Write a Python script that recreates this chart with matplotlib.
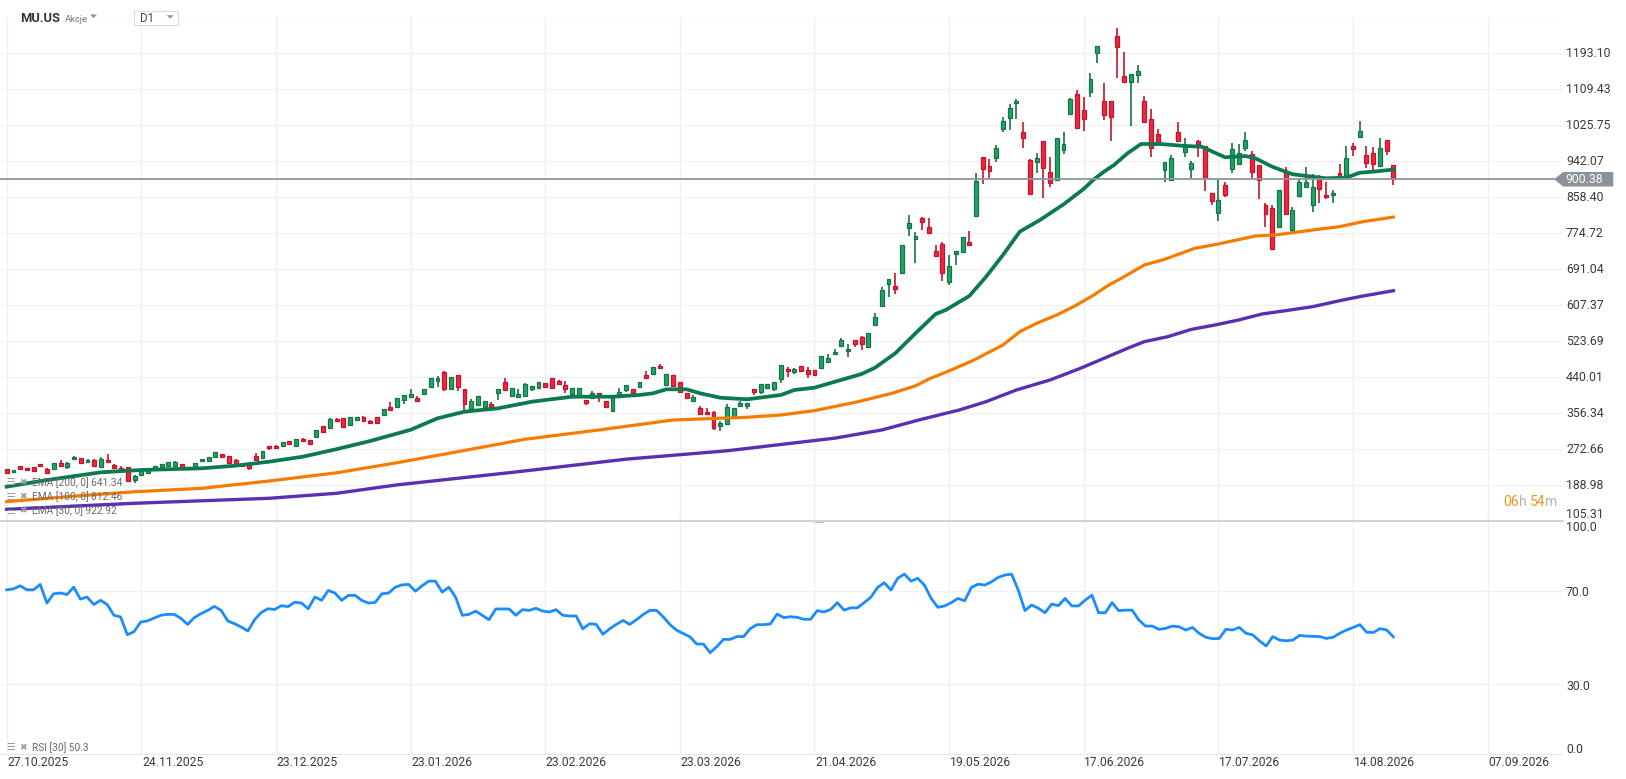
import numpy as np
import matplotlib.pyplot as plt
from matplotlib.patches import Polygon, Rectangle
from matplotlib.transforms import blended_transform_factory

plt.rcParams['font.family'] = ['Roboto', 'DejaVu Sans']

W, H = 1626, 779

opens = [226, 219, 233.1, 228.4, 231.5, 237.7, 226.8, 226.1, 240.8, 232.3,
         249.3, 251.6, 243.1, 247.8, 230.7, 247.8, 235.4, 229.9, 230.7, 201.3,
         212.1, 218.3, 227.6, 232.3, 234.6, 234.6, 237.7, 231.5, 230, 244.7,
         244.7, 254, 261, 256.3, 247, 237.7, 237.7, 256.3, 251.6, 279.5,
         280.3, 280.3, 291.2, 279.5, 296.6, 293.5, 300.5, 326, 321.4, 343.1,
         345.5, 330, 340, 347.8, 339.3, 347, 351.7, 370.2, 370.2, 388.1,
         395, 391.9, 402, 418.3, 432.2, 451.6, 413.6, 444.6, 412.1, 367.1,
         376.4, 371.8, 377.2, 404.3, 428.4, 397.4, 395, 397.4, 413.6, 414.4,
         426, 437.7, 431.5, 422.2, 400.5, 397.4, 386.5, 391.2, 403.6, 385,
         362.5, 395, 410.5, 412.1, 417.5, 445.4, 448.5, 466.3, 421.4, 445.3,
         428.3, 402.7, 384.8, 367.9, 358.6, 360, 326, 332, 346.1, 372.5,
         372.5, 412, 405, 415.9, 412.8, 436.8, 459.3, 451.5, 465.5, 456.9,
         456.9, 460.8, 476.3, 493.4, 513.5, 500.3, 525.9, 534.4, 509.6, 560.8,
         604.9, 657.6, 652.2, 681.6, 786.2, 760.7, 809.5, 788.6, 732.8, 749,
         662.3, 725.8, 730.4, 753.7, 815.7, 951.3, 930.4, 949, 1016.4, 1041.9,
         1076.8, 1009.4, 945.1, 941.2, 988.5, 916.4, 899.4, 969.1, 1052.8, 1097.7,
         1061.3, 1103.9, 1193, 1081.5, 1081.5, 1233.3, 1139.6, 1125.6, 1141.9, 1082.2,
         1040.4, 1004.7, 921.1, 899.4, 1009.4, 962.9, 923.4, 988.5, 976.9, 867.6,
         821.1, 886.2, 923.4, 935, 972.2, 958.3, 932.7, 839.7, 832.7, 790.1,
         919.5, 782.4, 862.2, 883.1, 839.7, 903.2, 863.7, 862.9, 914.9, 907.9,
         976.9, 997.8, 956.8, 960.6, 932, 990.9, 932.7]

closes = [218, 223.8, 226.1, 224.5, 223, 233.1, 216.8, 240, 234.6, 240,
          254, 240, 247.8, 234.6, 250.1, 242.3, 228.4, 223, 199.7, 210.6,
          225.3, 226.1, 233.8, 238.5, 242.3, 242.3, 232.3, 227.6, 240, 250.1,
          254, 265.6, 255.5, 240, 237.7, 234.6, 228.4, 247, 267.9, 274.9,
          274.9, 288.8, 284.2, 295.8, 291.9, 284.2, 317.5, 312.1, 343.8, 338.4,
          324.5, 347, 347, 337.7, 333.1, 334.6, 365.6, 364, 391.2, 398.1,
          401.2, 385.7, 412.1, 437.7, 438.4, 413.6, 440, 418.3, 377.2, 385,
          395.8, 385, 371.8, 412.1, 411.3, 414.4, 400.5, 424.5, 419.1, 428.4,
          418.3, 416, 425.3, 413.6, 414.4, 414.4, 379.5, 402.8, 396.6, 370.2,
          391.2, 405.1, 421.4, 404.3, 428.4, 439.2, 463.2, 460.9, 447.7, 420.5,
          405, 392.6, 394.9, 353.9, 353.9, 323, 334, 370, 367.9, 379.5,
          379.5, 405, 423.6, 423.6, 428.3, 467.8, 453.8, 459.3, 453.8, 446.9,
          445.3, 489.5, 484.1, 498.8, 525.9, 505, 516.6, 516.6, 542.2, 579.4,
          642.1, 667.7, 646, 746.7, 798.6, 767.6, 800.2, 774.6, 722.7, 681.6,
          698.7, 732.8, 765.3, 748.3, 896.3, 924.9, 920.3, 972.2, 1035, 1065.2,
          1082.2, 995.4, 865.3, 949, 927.3, 892.4, 995.4, 981.5, 1087.7, 1018.7,
          1039.6, 1132.6, 1209.3, 1048.9, 1045.8, 1208.5, 1125.6, 1145, 1152, 1032.6,
          972.2, 983.8, 939.7, 949, 988.5, 977.6, 937.3, 981.5, 902.5, 849,
          851.3, 863, 970.7, 960.6, 990.8, 918, 899.4, 818.8, 738, 874.6,
          818.8, 828.1, 893.2, 893.2, 881.6, 876.9, 858.3, 869.1, 908.7, 949.7,
          969.9, 1011.8, 937.4, 935.1, 972.3, 965.3, 900.38]

highs = [228, 224.5, 234, 229, 232, 239, 229.2, 241, 247.8, 243.1,
         256.3, 252.5, 250.1, 249, 254, 261.7, 238.5, 233.8, 232, 212,
         226, 227, 235, 239.5, 243, 244.7, 238.5, 232.3, 241, 251,
         255, 266.5, 262, 257, 250.1, 238.5, 238.5, 263.3, 269, 280.5,
         281.5, 289.5, 292, 296.5, 298.9, 294, 318.5, 327, 345, 346.2,
         346.5, 348, 348, 350.9, 340, 348, 366.5, 382.6, 392, 399,
         412.1, 396.6, 413, 438.5, 443.9, 455.5, 441, 445.5, 413, 388.8,
         396.5, 386, 383.4, 413, 437.7, 415, 412.1, 427.6, 420, 429,
         427, 438.5, 433, 431.5, 415, 415.5, 387, 407.4, 404.5, 386,
         396.6, 414.4, 422, 413, 429, 454.7, 464, 471, 448.5, 446,
         429, 403.5, 398.8, 373.3, 368.6, 361, 339, 378, 369, 384.9,
         380.5, 413, 424.5, 424.5, 429, 468.5, 463.9, 460.5, 466.5, 463.9,
         458, 490.5, 493.4, 505.8, 530.6, 517.4, 527, 535.5, 544, 589.4,
         649.1, 669, 681.6, 748, 817.2, 776.9, 811.8, 810.3, 747.5, 753.7,
         724.3, 734, 766.5, 780, 914.1, 952.5, 947.4, 979.2, 1044.3, 1075.3,
         1086.1, 1033.4, 946.5, 960.6, 989.5, 952.1, 996.5, 1009.4, 1089, 1107.8,
         1090.8, 1147.3, 1210.5, 1123.3, 1082.5, 1251.9, 1196.1, 1146, 1165.9, 1094.6,
         1063.6, 1016.4, 941, 956.7, 1033.4, 996.2, 942, 991.6, 978, 868.5,
         900.9, 894.7, 983.8, 981.5, 1010.2, 966.8, 934, 845.9, 840, 876,
         928.8, 835.1, 900.9, 928.8, 911.8, 909.4, 893.9, 875.4, 935.8, 977.6,
         983.9, 1035.8, 977.7, 976, 995.5, 992, 934]

lows = [215, 218, 225, 224, 220.7, 232, 216, 225, 234, 227.6,
        248.5, 239, 242, 231.5, 229, 241, 227.5, 222, 198, 193.7,
        211, 217, 227, 231.5, 232.3, 234, 229.2, 227, 229, 244,
        244, 252.4, 254, 239, 237, 234, 224.5, 246, 251, 271.8,
        274, 279.5, 283.5, 279, 291, 283.5, 300, 311, 321, 337.5,
        323, 327.6, 339, 337, 331, 334, 351, 363, 369, 378,
        392.7, 385, 399.7, 417.5, 418.3, 408.2, 413, 408.2, 364, 366,
        374.1, 371, 366.4, 387.3, 410, 396, 394, 396, 409, 413.5,
        416.7, 415, 422.9, 402.8, 399.5, 396.5, 376.4, 390, 381.9, 369.5,
        358.6, 394, 406.7, 398.1, 417, 438.5, 448, 460, 421, 416.6,
        402.7, 391.5, 384, 353, 352, 318, 316, 328, 345, 371,
        365.5, 398.8, 400.4, 412, 408.9, 425.9, 441.5, 446.9, 453, 437.6,
        442.2, 460, 472.4, 492.5, 511.2, 488, 509.6, 504.2, 509, 560,
        604, 627.4, 634.4, 680, 769.2, 706.4, 783.1, 773.5, 720.4, 664.6,
        653.7, 701.8, 729, 747, 814, 890.1, 904, 941.2, 1010.9, 1015.6,
        1039.6, 973.8, 864, 914.9, 856, 883.1, 898, 959.8, 1050.5, 1017.5,
        1013.3, 1092.3, 1169.8, 1038.8, 990, 1136.5, 1124, 1024.9, 1123.3, 1031.5,
        951.3, 983, 893.2, 898, 987.5, 952.8, 902.5, 951.3, 873.8, 840.5,
        804.1, 858.3, 915.6, 934, 966.8, 904, 855.2, 790.1, 735, 787,
        817, 774.6, 859.9, 880, 824.2, 845.1, 854.4, 844.4, 907, 906,
        955.2, 995.5, 925.8, 921.9, 928.9, 956.8, 887]

# EMA lines, read at bar positions
ema30_idx = [0, 6, 14, 20, 29, 34, 39, 44, 49, 54, 60, 64, 68, 73, 78, 84, 90, 94, 96, 98,
             101, 103, 106, 110, 115, 117, 120, 127, 129, 132, 135, 138, 139.5, 143, 145.5,
             148, 150.5, 153.5, 157, 158.5, 160, 161.5, 163, 164.5, 166.5, 168.5, 171.5,
             174.5, 177.5, 181, 184, 185.5, 188, 191, 196, 199, 201, 203, 206]
ema30_val = [185.8, 201.3, 219.2, 224.6, 228.5, 234.6, 243.9, 255.5, 273.0, 292.0, 318.0,
             344.7, 360.1, 368.0, 383.3, 394.9, 394.9, 398.9, 402.8, 412.1, 412.1, 402.8,
             392.6, 388.9, 398.9, 410.5, 415.9, 447.7, 462.4, 495.8, 542.2, 587.2, 596.5,
             629.0, 673.9, 724.3, 778.6, 805.7, 842.0, 860.0, 878.0, 900.0, 918.0, 933.5,
             960.7, 982.3, 982.3, 978.4, 976.0, 951.4, 954.4, 949.1, 929.6, 912.0, 902.6,
             904.0, 915.6, 918.0, 922.92]

ema100_idx = [0, 9, 19, 29, 39, 49, 58, 68, 77, 88, 99, 110, 115, 120, 126.5, 131.5, 135,
              137, 140, 143.5, 148, 150.5, 153, 156, 158.5, 161.5, 163.5, 166, 169, 172,
              176.5, 180, 185.5, 188.5, 194, 198, 201.5, 206]
ema100_val = [151, 162.5, 174, 182, 199, 218, 241.5, 270, 296, 317.6, 340.8, 347.1, 352.4,
              362.5, 383.4, 402.8, 420, 436, 455, 478.7, 515.1, 546.1, 565.5, 584.9, 604.2,
              631.3, 652.3, 673.9, 701.1, 714.2, 739.8, 749.9, 768.5, 770.8, 782.4, 790.2,
              801.8, 812.46]

ema200_idx = [0, 19, 39, 49, 58, 68, 76, 92, 107, 123, 130, 135.5, 141.5, 145.5, 150, 155,
              159.5, 163, 166.5, 169, 172.5, 176, 179.5, 183, 186.5, 190, 194, 198.5, 201.5,
              206]
ema200_val = [133.2, 147.2, 158.8, 170.4, 190, 207, 220.6, 249.7, 269.2, 298.5, 317.6, 340.8,
              364.0, 383.4, 410.6, 433.8, 460.9, 484.1, 507.4, 522.9, 534.5, 551.5, 561.6,
              573.2, 587.2, 594.9, 604.2, 619.7, 629.0, 641.34]

rsi = [70.4, 70.8, 72.1, 70.4, 70.4, 72.7, 64.7, 68.7, 69.0, 68.4, 71.5, 66.4, 67.3, 64.1,
       65.9, 64.1, 59.5, 58.8, 51.2, 52.5, 56.6, 57.1, 58.3, 59.5, 59.9, 59.9, 58.2, 55.6,
       58.5, 60.2, 61.6, 63.3, 61.6, 57.1, 55.9, 54.5, 52.8, 57.6, 60.7, 62.3, 62.0, 63.6,
       63.2, 65.1, 64.7, 62.3, 67.3, 65.9, 70.1, 69.0, 65.9, 68.0, 68.0, 65.9, 64.7, 65.0,
       68.7, 69.0, 71.5, 72.5, 72.7, 69.8, 72.1, 74.1, 74.1, 69.4, 71.5, 67.3, 59.5, 59.9,
       61.3, 59.5, 57.6, 62.2, 62.2, 62.2, 59.5, 61.9, 61.6, 62.5, 61.3, 60.9, 61.9, 59.5,
       59.2, 59.2, 53.7, 55.9, 55.6, 51.4, 53.7, 55.6, 57.3, 55.6, 57.6, 59.8, 61.6, 61.6,
       58.8, 55.6, 53.1, 51.7, 50.3,
       47.2, 47.2, 43.5, 46.1, 49.2, 49.2, 50.4, 50.4, 53.8, 55.5, 55.5, 55.8, 60.0, 58.5,
       58.9, 58.6, 57.8, 57.8, 61.5, 60.9, 62.0, 64.9, 61.7, 62.7, 62.7, 64.9, 67.2, 71.4,
       73.4, 70.3, 75.3, 77.1, 74.1, 75.3, 72.4, 66.7, 62.9, 63.5, 64.9, 66.7, 65.7, 71.4,
       72.8, 72.4, 73.8, 75.7, 76.7, 77.1, 70.3, 61.5, 63.9, 62.5, 60.6, 64.3, 63.6, 66.7,
       63.5, 63.5, 66.0, 68.1, 60.6, 60.6, 64.9, 61.5, 61.7, 61.7, 57.5, 54.9, 54.9, 53.5,
       53.9, 54.9, 54.6, 53.2, 54.3, 51.8, 50.1, 49.5, 49.6, 53.5, 53.2, 54.3, 51.8, 51.1,
       48.6, 46.4, 50.4, 48.9, 48.6, 48.9, 50.9, 50.6, 50.5, 50.4, 49.6, 50.1, 51.8, 53.2,
       54.3, 55.5, 52.3, 52.1, 53.8, 53.2, 50.3]

date_idx = [0, 20, 40, 60, 80, 100, 120, 140, 160, 180, 200, 220]
date_labels = ['27.10.2025', '24.11.2025', '23.12.2025', '23.01.2026', '23.02.2026',
               '23.03.2026', '21.04.2026', '19.05.2026', '17.06.2026', '17.07.2026',
               '14.08.2026', '07.09.2026']
price_ticks = [105.31, 188.98, 272.66, 356.34, 440.01, 523.69, 607.37, 691.04, 774.72,
               858.40, 942.07, 1025.75, 1109.43, 1193.10, 1276.78]
last_price = 900.38

GREEN, GREEN_E = '#22a366', '#157447'
RED, RED_E = '#f2263f', '#c0162b'
GRID = '#f0f0f0'
LABEL = '#3a3a3a'

fig = plt.figure(figsize=(W / 100, H / 100), dpi=100)
fig.patch.set_facecolor('white')
renderer = fig.canvas.get_renderer()


def fx(px):
    return px / W


def fy(py):
    return 1 - py / H


def chain(px, py, parts, **kw):
    # draw text pieces one after another
    x = fx(px)
    for s, col in parts:
        t = fig.text(x, fy(py), s, color=col, va='center', ha='left', **kw)
        x += t.get_window_extent(renderer).width / W
    return x


ax = fig.add_axes([0, fy(521), fx(1563), (521 - 18) / H])
ax2 = fig.add_axes([0, fy(754.5), fx(1563), (754.5 - 521) / H])
for a in (ax, ax2):
    a.set_xlim(-1.0, 231.2)
    a.set_axis_off()
ax.set_ylim(106.0, 1275.2)
ax2.set_ylim(0, 99.8)

# grid
for p in price_ticks:
    ax.axhline(p, color=GRID, lw=1, zorder=0)
for r in (30, 70):
    ax2.axhline(r, color=GRID, lw=1, zorder=0)
ax2.axhline(0, color='#e2e2e2', lw=1.2, zorder=0)
for d in date_idx:
    ax.axvline(d, color=GRID, lw=1, zorder=0)
    ax2.axvline(d, color=GRID, lw=1, zorder=0)

# candles
x = np.arange(len(closes))
o = np.array(opens)
c = np.array(closes)
hi = np.array(highs)
lo = np.array(lows)
up = c >= o
bottom = np.minimum(o, c)
height = np.maximum(np.abs(c - o), 2.5)
ax.vlines(x[up], lo[up], hi[up], color=GREEN_E, lw=1.2, zorder=2)
ax.vlines(x[~up], lo[~up], hi[~up], color=RED_E, lw=1.2, zorder=2)
ax.bar(x[up], height[up], bottom=bottom[up], width=0.58, color=GREEN, edgecolor=GREEN_E,
       linewidth=0.9, zorder=3)
ax.bar(x[~up], height[~up], bottom=bottom[~up], width=0.58, color=RED, edgecolor=RED_E,
       linewidth=0.9, zorder=3)

# EMAs
ax.plot(ema200_idx, ema200_val, color='#5a2fb0', lw=2.4, zorder=4, solid_joinstyle='round')
ax.plot(ema100_idx, ema100_val, color='#f57c00', lw=2.3, zorder=4, solid_joinstyle='round')
ax.plot(ema30_idx, ema30_val, color='#0b7a4f', lw=2.7, zorder=5, solid_joinstyle='round')

# last price line and tag
ax.axhline(last_price, xmax=1554 / 1563, color='#8c969c', lw=1.3, zorder=6)
tr = blended_transform_factory(fig.transFigure, ax.transData)
dh = 7.3 * (1275.2 - 106.0) / 503
tag = Polygon([(fx(1554), last_price), (fx(1563.3), last_price + dh),
               (fx(1613.3), last_price + dh), (fx(1613.3), last_price - dh),
               (fx(1563.3), last_price - dh)],
              closed=True, transform=tr, facecolor='#8a9399', edgecolor='none')
fig.add_artist(tag)
fig.text(fx(1565.5), last_price, f'{last_price:.2f}', transform=tr, color='white',
         fontsize=8.8, va='center', ha='left')

# price axis labels
for p in price_ticks[1:-1]:
    fig.text(fx(1566), p, f'{p:.2f}', transform=tr, color=LABEL, fontsize=8.8,
             va='center', ha='left')
fig.text(fx(1566), fy(515), f'{price_ticks[0]:.2f}', color=LABEL, fontsize=8.8,
         va='center', ha='left')

# RSI
ax2.plot(np.linspace(0, 206, len(rsi)), rsi, color='#1a8cff', lw=2.0, zorder=3,
         solid_joinstyle='round')
tr2 = blended_transform_factory(fig.transFigure, ax2.transData)
fig.text(fx(1566), fy(527.5), '100.0', color=LABEL, fontsize=8.8, va='center', ha='left')
for r in (70, 30):
    fig.text(fx(1566), r - 0.8, f'{r:.1f}', transform=tr2, color=LABEL, fontsize=8.8,
             va='center', ha='left')
fig.text(fx(1566), fy(749.5), '0.0', color=LABEL, fontsize=8.8, va='center', ha='left')

# panel separator
fig.add_artist(plt.Line2D([0, fx(1563)], [fy(521), fy(521)], color='#d4d4d4', lw=1.5))
fig.add_artist(Rectangle((fx(815), fy(523)), fx(9), 3 / H, facecolor='#c4c4c4',
                         edgecolor='none'))

# date labels
trd = blended_transform_factory(ax2.transData, fig.transFigure)
for d, lab in zip(date_idx, date_labels):
    fig.text(d + 0.1, fy(762), lab, transform=trd, color=LABEL, fontsize=8.7,
             va='center', ha='left')

# indicator legends
leg_items = [('EMA [200, 0] 641.34', 482.5), ('EMA [100, 0] 812.46', 497),
             ('EMA [30, 0] 922.92', 510.5), ('RSI [30] 50.3', 747.5)]
for txt, py in leg_items:
    fig.text(fx(6), fy(py), '☰', color='#9a9a9a', fontsize=7, va='center', ha='left',
             zorder=1)
    fig.text(fx(19), fy(py), '✖', color='#9a9a9a', fontsize=6.5, va='center', ha='left',
             zorder=1)
    fig.text(fx(31.5), fy(py), txt, color='#6a6a6a', fontsize=7.3, va='center', ha='left',
             zorder=1)

# candle countdown
chain(1503, 502, [('06', '#f7941d'), ('h ', '#b5b5b5'), ('54', '#f7941d'), ('m', '#b5b5b5')],
      fontsize=10)

# header
xe = chain(20.5, 18.3, [('MU.US', '#333333')], fontsize=9.3, fontweight='bold')
fig.text(xe + fx(4), fy(19.3), 'Akcje', color='#7a7a7a', fontsize=6.8, va='center',
         ha='left')
fig.add_artist(Polygon([(fx(90), fy(14.5)), (fx(97), fy(14.5)), (fx(93.5), fy(18))],
                       closed=True, facecolor='#8a8a8a', edgecolor='none'))
fig.add_artist(Rectangle((fx(134.3), fy(25.3)), fx(43.4), 14.6 / H, facecolor='white',
                         edgecolor='#dcdcdc', lw=0.8))
fig.text(fx(139.5), fy(18.3), 'D1', color='#444444', fontsize=8.3, va='center', ha='left')
fig.add_artist(Polygon([(fx(166.5), fy(15.2)), (fx(174), fy(15.2)), (fx(170.2), fy(18.6))],
                       closed=True, facecolor='#9a9a9a', edgecolor='none'))

fig.savefig('out.png', dpi=100)
